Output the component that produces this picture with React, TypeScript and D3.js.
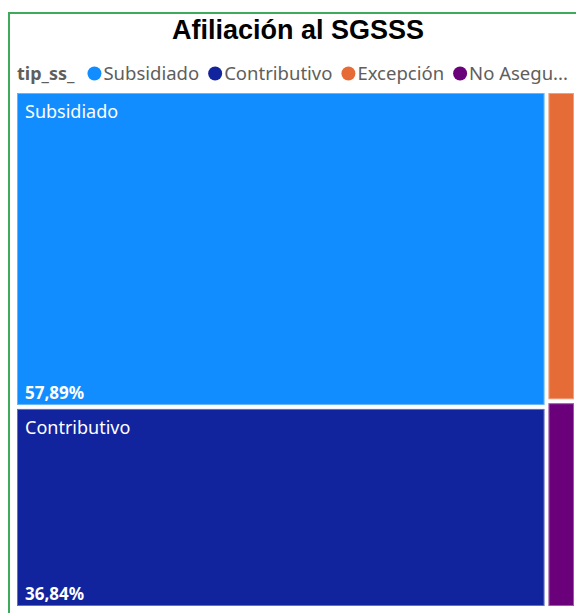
import React, { useEffect, useRef } from 'react';
import * as d3 from 'd3';

// Data
const title = 'Afiliación al SGSSS';
const legendTitle = 'tip_ss_';
const categories = ['Subsidiado', 'Contributivo', 'Excepción', 'No Asegurado'];
const counts = [55, 35, 3, 2];
const groups = ['A', 'A', 'B', 'B'];
const colors = ['#118DFF', '#12239E', '#E66C37', '#6B007B'];

const W = 576;
const H = 613;
const FONT = '"Noto Sans", "Open Sans", sans-serif';

const App = () => {
  const ref = useRef<SVGSVGElement>(null);

  useEffect(() => {
    const svg = d3.select(ref.current);
    svg.selectAll('*').remove();

    // Frame
    svg.append('rect')
      .attr('x', 9).attr('y', 13)
      .attr('width', 600).attr('height', 640)
      .attr('fill', '#fff')
      .attr('stroke', '#3DAA5C')
      .attr('stroke-width', 2);

    // Title
    svg.append('text')
      .attr('x', 298).attr('y', 39)
      .attr('text-anchor', 'middle')
      .attr('font-family', '"Liberation Sans", Arial, sans-serif')
      .attr('font-weight', 'bold')
      .attr('font-size', 27)
      .attr('fill', '#000')
      .text(title);

    // Legend
    const legendY = 80;
    const lg = svg.append('g');
    const lt = lg.append('text')
      .attr('x', 17).attr('y', legendY)
      .attr('font-family', FONT)
      .attr('font-weight', 'bold')
      .attr('font-size', 18)
      .attr('fill', '#605E5C')
      .text(legendTitle);
    let cx = 17 + (lt.node() as SVGTextElement).getComputedTextLength() + 20;
    const maxX = 570;
    categories.forEach((c, i) => {
      lg.append('circle')
        .attr('cx', cx).attr('cy', legendY - 6.5)
        .attr('r', 7)
        .attr('fill', colors[i]);
      const t = lg.append('text')
        .attr('x', cx + 9).attr('y', legendY)
        .attr('font-family', FONT)
        .attr('font-size', 18.5)
        .attr('fill', '#605E5C')
        .text(c);
      const node = t.node() as SVGTextElement;
      let label = c;
      while (cx + 9 + node.getComputedTextLength() > maxX && label.length > 1) {
        label = label.slice(0, -1);
        t.text(label.trimEnd() + '...');
      }
      cx += 9 + node.getComputedTextLength() + 16;
    });

    // Treemap
    const rootData = {
      name: 'root',
      children: ['A', 'B'].map(g => ({
        name: g,
        children: categories
          .map((c, i) => ({ name: c, value: counts[i], color: colors[i], group: groups[i] }))
          .filter(d => d.group === g),
      })),
    };
    const root = d3.hierarchy<any>(rootData).sum(d => d.value || 0);
    const total = root.value || 1;
    d3.treemap<any>()
      .tile((node: any, x0, y0, x1, y1) => {
        if (node.depth === 0) d3.treemapDice(node, x0, y0, x1, y1);
        else d3.treemapSlice(node, x0, y0, x1, y1);
      })
      .size([557 + 2, 513 + 2])
      .paddingInner(2)
      .round(false)(root);

    const tg = svg.append('g').attr('transform', 'translate(16,92)');
    const leaves = tg.selectAll('g.cell')
      .data(root.leaves())
      .enter()
      .append('g')
      .attr('class', 'cell');

    leaves.append('rect')
      .attr('x', (d: any) => d.x0 + 1)
      .attr('y', (d: any) => d.y0 + 1)
      .attr('width', (d: any) => d.x1 - d.x0 - 2)
      .attr('height', (d: any) => d.y1 - d.y0 - 2)
      .attr('fill', (d: any) => d.data.color);

    leaves.append('rect')
      .attr('x', (d: any) => d.x0 + 1.5)
      .attr('y', (d: any) => d.y0 + 1.5)
      .attr('width', (d: any) => d.x1 - d.x0 - 3)
      .attr('height', (d: any) => d.y1 - d.y0 - 3)
      .attr('fill', 'none')
      .attr('stroke', 'rgba(255,255,255,0.35)')
      .attr('stroke-width', 1);

    const big = leaves.filter((d: any) => d.x1 - d.x0 > 100);
    big.append('text')
      .attr('x', (d: any) => d.x0 + 9)
      .attr('y', (d: any) => d.y0 + 26)
      .attr('font-family', FONT)
      .attr('font-size', 18)
      .attr('fill', '#fff')
      .text((d: any) => d.data.name);

    big.append('text')
      .attr('x', (d: any) => d.x0 + 9)
      .attr('y', (d: any) => d.y1 - 7)
      .attr('font-family', FONT)
      .attr('font-weight', 'bold')
      .attr('font-size', 17)
      .attr('fill', '#fff')
      .text((d: any) => ((d.value / total) * 100).toFixed(2).replace('.', ',') + '%');
  }, []);

  return (
    <div style={{ position: 'fixed', left: 0, top: 0, width: W, height: H, overflow: 'hidden', background: '#fff' }}>
      <svg ref={ref} width={W} height={H} style={{ display: 'block' }}></svg>
    </div>
  );
};

export default App;
